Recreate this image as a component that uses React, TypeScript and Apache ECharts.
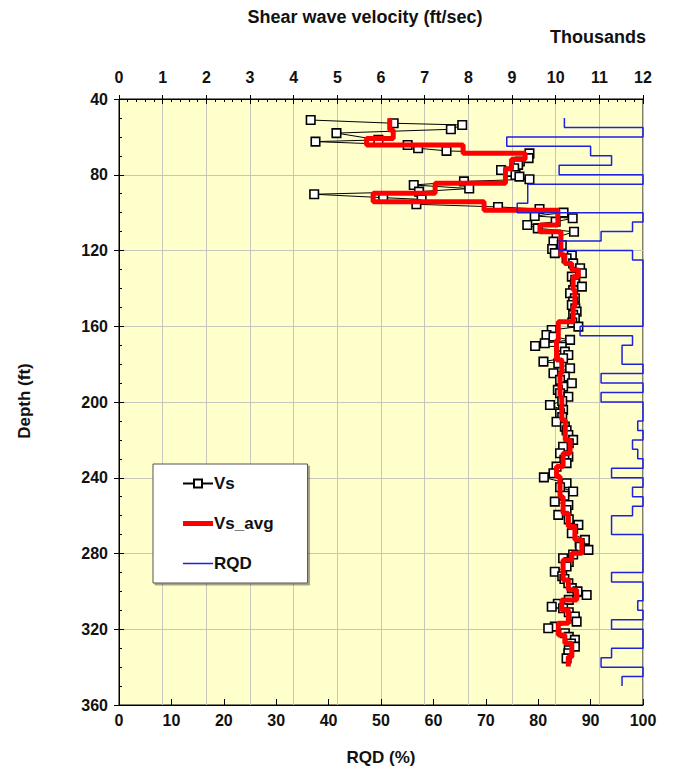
import React, { useEffect, useRef } from "react";
import * as echarts from "echarts";

// Shear wave velocity measurements (depth in ft, Vs in thousands of ft/sec)
const vsDepth = [
  51.1, 52.8, 53.7, 56.0, 58.0, 61.6, 62.5, 64.3, 66.0, 67.4, 68.7, 71.2, 73.0, 74.8, 76.6, 77.5, 78.5, 80.1, 81.0, 82.4,
  83.5, 85.4, 87.3, 88.9, 90.3, 92.1, 93.0, 95.6, 97.0, 98.1, 100.0, 101.8, 103.0, 104.8, 106.5, 108.3, 110.1, 113.0, 115.3, 117.1,
  119.2, 121.4, 122.6, 124.1, 126.8, 129.4, 132.0, 133.8, 135.5, 137.3, 139.1, 140.9, 142.6, 145.2, 147.0, 148.8, 150.5, 152.3, 154.0, 155.8,
  158.0, 160.2, 162.0, 164.6, 165.5, 167.2, 169.0, 170.4, 170.8, 173.4, 175.2, 176.9, 178.7, 179.6, 182.2, 184.8, 186.6, 188.3, 190.1, 191.9,
  193.6, 195.4, 197.2, 199.5, 201.6, 204.2, 206.0, 208.0, 210.4, 213.0, 215.0, 217.4, 220.0, 221.8, 223.6, 227.1, 228.9, 230.5, 232.3, 234.1,
  237.6, 239.8, 242.9, 245.0, 247.3, 249.5, 252.6, 254.4, 257.0, 259.6, 262.0, 264.9, 267.0, 269.3, 272.8, 274.5, 276.4, 278.1, 280.5, 282.5,
  284.5, 286.9, 289.6, 292.0, 293.5, 295.7, 298.3, 300.0, 301.9, 304.5, 306.5, 308.1, 308.9, 311.0, 313.3, 316.0, 318.6, 319.5, 322.1, 324.0,
  325.6, 327.5, 329.2, 331.0, 332.7, 335.4,
];
const vsValue = [
  4.39, 6.29, 7.86, 7.6, 4.98, 5.94, 4.5, 6.61, 6.85, 7.5, 9.4, 9.38, 9.18, 9.14, 9.05, 8.75, 8.92, 9.08, 9.17, 9.4,
  7.9, 6.75, 8.02, 6.87, 4.47, 6.05, 6.93, 6.81, 8.68, 9.63, 10.18, 9.52, 10.39, 10.0, 9.35, 9.59, 10.42, 10.02, 9.95, 10.14,
  9.92, 9.98, 10.37, 10.25, 10.4, 10.56, 10.6, 10.37, 10.45, 10.44, 10.6, 10.4, 10.33, 10.44, 10.4, 10.37, 10.45, 10.48, 10.4, 10.44,
  10.38, 10.52, 9.91, 9.79, 9.95, 10.33, 9.75, 9.53, 10.14, 10.21, 10.29, 10.17, 9.72, 10.06, 10.33, 9.95, 10.21, 10.1, 10.37, 10.17,
  10.05, 10.1, 10.29, 10.15, 9.87, 10.17, 10.1, 10.15, 10.02, 10.21, 10.25, 10.29, 10.4, 10.3, 10.17, 10.1, 10.29, 10.2, 10.25, 10.02,
  9.95, 9.73, 10.25, 10.1, 10.4, 10.2, 9.98, 10.29, 10.25, 10.06, 10.3, 10.52, 10.4, 10.37, 10.67, 10.55, 10.56, 10.75, 10.4, 10.17,
  10.3, 10.25, 9.98, 10.15, 10.2, 10.29, 10.37, 10.5, 10.71, 10.3, 10.05, 9.91, 10.17, 10.3, 10.44, 10.48, 9.98, 9.83, 10.21, 10.3,
  10.44, 10.35, 10.44, 10.3, 10.29, 10.25,
];

// Averaged Vs (step): interval boundaries (ft) and values (thousands ft/sec)
const avgBreaks = [
  50.2, 56.4, 60.8, 64.3, 68.7, 71.8, 76.8, 84.5, 89.8, 94.2, 98.8, 106.5, 110.1, 122.4, 126.8, 130.3, 133.8, 140.8, 149.7, 157.6,
  167.2, 177.8, 184.8, 197.2, 209.5, 220.0, 227.1, 234.1, 239.4, 250.0, 258.8, 265.8, 272.8, 279.9, 283.4, 294.0, 299.2, 304.5, 309.8, 316.8,
  323.0, 327.4, 334.5, 339.7,
];
const avgValues = [
  6.2, 6.28, 5.67, 7.88, 9.3, 8.99, 8.85, 7.24, 5.82, 8.36, 10.05, 9.64, 10.12, 10.21, 10.37, 10.52, 10.4, 10.44, 10.4, 10.06,
  10.02, 10.14, 10.1, 10.14, 10.22, 10.33, 10.17, 10.02, 10.1, 10.17, 10.29, 10.44, 10.6, 10.37, 10.17, 10.29, 10.48, 10.14, 10.29, 10.06,
  10.21, 10.37, 10.29,
];

// RQD (%) per core run: interval boundaries (ft) and values
const rqdBreaks = [
  50, 55, 60, 65, 70, 75, 80, 85, 95, 100, 105, 110, 115, 120, 125, 160, 165, 170, 180, 185,
  190, 195, 200, 210, 215, 220, 225, 230, 235, 240, 245, 250, 255, 260, 270, 290, 295, 305, 310, 315,
  320, 330, 335, 340, 345, 350,
];
const rqdValues = [
  85, 100, 74, 90, 94, 84, 100, 78, 76, 100, 98, 92, 84, 98, 100, 88, 98, 96, 100, 92,
  100, 92, 100, 99, 100, 98, 99, 100, 94, 100, 98, 100, 98, 94, 100, 94, 100, 99, 100, 94,
  100, 94, 92, 100, 96,
];

const FONT = '"Liberation Sans", Arial, Helvetica, sans-serif';

// legend line icons (bounding box 30x10, bar in the middle)
const ICON_THICK = "path://M0,0L0.01,0L0.01,0.01Z M0,2.5L30,2.5L30,7.5L0,7.5Z M0,9.99L0.01,9.99L0.01,10Z";
const ICON_THIN = "path://M0,0L0.01,0L0.01,0.01Z M0,4.3L30,4.3L30,5.7L0,5.7Z M0,9.99L0.01,9.99L0.01,10Z";

function steps(breaks: number[], values: number[]) {
  const pts: number[][] = [];
  values.forEach((v, i) => {
    pts.push([v, breaks[i]]);
    pts.push([v, breaks[i + 1]]);
  });
  return pts;
}

export default function App() {
  const ref = useRef<HTMLDivElement>(null);
  useEffect(() => {
    if (!ref.current) return;
    const chart = echarts.init(ref.current, null, { renderer: "svg" });
    const labelStyle = { color: "#111", fontSize: 16, fontWeight: "bold", fontFamily: FONT };
    const gridColor = "#c6c6ba";
    const option: any = {
      animation: false,
      backgroundColor: "#ffffff",
      grid: {
        left: 119, top: 99, width: 524, height: 606,
        show: true, backgroundColor: "#FFFFCC", borderColor: "#000", borderWidth: 1,
      },
      xAxis: [
        {
          type: "value", position: "top", min: 0, max: 12, interval: 1,
          axisLine: { show: true, onZero: false, lineStyle: { color: "#000", width: 1 } },
          axisTick: { show: true, inside: false, length: 4, lineStyle: { color: "#000" } },
          axisLabel: { margin: 14, ...labelStyle },
          splitLine: { show: true, lineStyle: { color: gridColor, width: 1 } },
        },
        {
          type: "value", position: "bottom", min: 0, max: 100, interval: 10,
          axisLine: { show: true, onZero: false, lineStyle: { color: "#000", width: 1 } },
          axisTick: { show: true, inside: true, length: 6, lineStyle: { color: "#000" } },
          axisLabel: { margin: 7, ...labelStyle },
          splitLine: { show: false },
        },
        {
          type: "value", position: "top", min: 0, max: 12, interval: 1,
          axisLine: { show: false, onZero: false },
          axisTick: { show: true, inside: true, length: 5, lineStyle: { color: "#000" } },
          minorTick: { show: true, splitNumber: 5, length: 3, lineStyle: { color: "#000" } },
          axisLabel: { show: false },
          splitLine: { show: false },
        },
      ],
      yAxis: [
        {
          type: "value", inverse: true, min: 40, max: 360, interval: 40, position: "left",
          axisLine: { show: true, onZero: false, lineStyle: { color: "#000", width: 1 } },
          axisTick: { show: true, inside: false, length: 5, lineStyle: { color: "#000" } },
          axisLabel: { margin: 11, ...labelStyle },
          splitLine: { show: true, lineStyle: { color: gridColor, width: 1 } },
        },
        {
          type: "value", inverse: true, min: 40, max: 360, interval: 40, position: "left",
          axisLine: { show: false, onZero: false },
          axisTick: { show: true, inside: true, length: 5, lineStyle: { color: "#000" } },
          minorTick: { show: true, splitNumber: 4, length: 3, lineStyle: { color: "#000" } },
          axisLabel: { show: false },
          splitLine: { show: false },
        },
      ],
      legend: {
        show: true,
        orient: "vertical",
        left: 153,
        top: 464,
        padding: [11, 34, 11, 29],
        itemGap: 23,
        itemWidth: 30,
        itemHeight: 10,
        backgroundColor: "#ffffff",
        borderColor: "#555",
        borderWidth: 1,
        shadowColor: "rgba(0,0,0,0.35)",
        shadowOffsetX: 2,
        shadowOffsetY: 2,
        shadowBlur: 1,
        textStyle: { color: "#111", fontSize: 17, fontWeight: "bold", fontFamily: FONT, padding: [0, 0, 0, -4] },
        data: [
          { name: "Vs" },
          { name: "Vs_avg", icon: ICON_THICK, itemStyle: { color: "#ff0000" } },
          { name: "RQD", icon: ICON_THIN, itemStyle: { color: "#2020e0" } },
        ],
      },
      graphic: [
        {
          type: "text", x: 365, y: 17,
          style: { text: "Shear wave velocity (ft/sec)", font: `bold 18px ${FONT}`, fill: "#111",
            align: "center", verticalAlign: "middle", textAlign: "center", textVerticalAlign: "middle" },
        },
        {
          type: "text", x: 598, y: 37,
          style: { text: "Thousands", font: `bold 18px ${FONT}`, fill: "#111",
            align: "center", verticalAlign: "middle", textAlign: "center", textVerticalAlign: "middle" },
        },
        {
          type: "text", x: 24, y: 401, rotation: Math.PI / 2,
          style: { text: "Depth (ft)", font: `bold 17px ${FONT}`, fill: "#111",
            align: "center", verticalAlign: "middle", textAlign: "center", textVerticalAlign: "middle" },
        },
        {
          type: "text", x: 381, y: 757,
          style: { text: "RQD (%)", font: `bold 17px ${FONT}`, fill: "#111",
            align: "center", verticalAlign: "middle", textAlign: "center", textVerticalAlign: "middle" },
        },
      ],
      series: [
        {
          name: "Vs", type: "line", xAxisIndex: 0, yAxisIndex: 0,
          data: vsDepth.map((d, i) => [vsValue[i], d]),
          symbol: "rect", symbolSize: 8.5, showSymbol: true,
          itemStyle: { color: "#ffffff", borderColor: "#000", borderWidth: 1.6 },
          lineStyle: { color: "#000", width: 1 },
          z: 3,
        },
        {
          name: "Vs_avg", type: "line", xAxisIndex: 0, yAxisIndex: 0,
          data: steps(avgBreaks, avgValues),
          symbol: "none", showSymbol: false,
          itemStyle: { color: "#ff0000" },
          lineStyle: { color: "#ff0000", width: 5 },
          z: 4,
        },
        {
          name: "RQD", type: "line", xAxisIndex: 1, yAxisIndex: 0,
          data: steps(rqdBreaks, rqdValues),
          symbol: "none", showSymbol: false,
          itemStyle: { color: "#2020e0" },
          lineStyle: { color: "#2020e0", width: 1.5 },
          z: 5,
        },
      ],
    };
    chart.setOption(option);
    return () => chart.dispose();
  }, []);
  return (
    <div
      ref={ref}
      style={{ position: "fixed", left: 0, top: 0, width: 673, height: 779, background: "#fff" }}
    />
  );
}
